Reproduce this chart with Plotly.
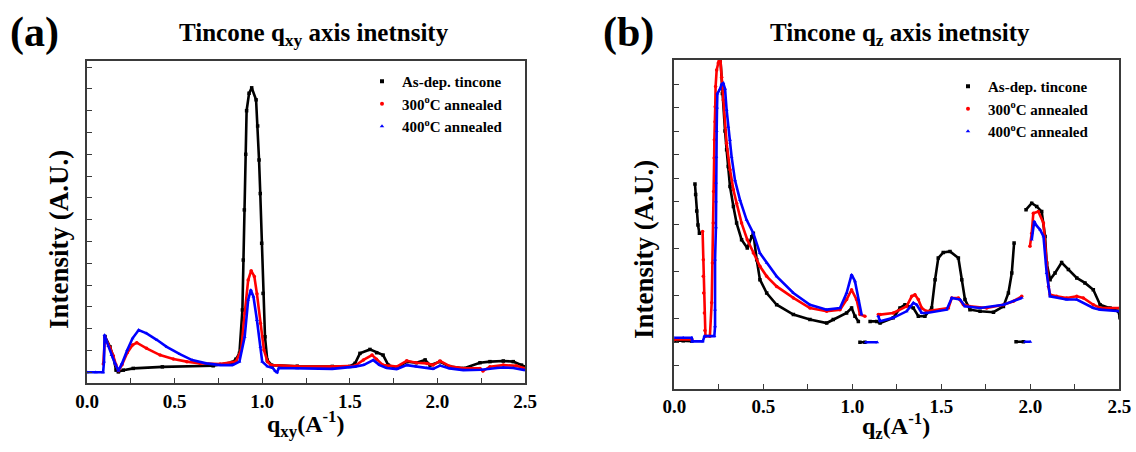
import plotly.graph_objects as go

# ---------------- Panel (a): q_xy profile ----------------
qa_black = [0.103, 0.131, 0.15, 0.166, 0.179, 0.207, 0.264, 0.43, 0.72, 0.83, 0.85, 0.87, 0.887, 0.892,
            0.898, 0.906, 0.911, 0.925, 0.94, 0.965, 0.974, 0.982, 0.989, 0.997, 1.005, 1.016, 1.029,
            1.054, 1.2, 1.4, 1.50, 1.53, 1.558, 1.615, 1.653, 1.69, 1.72, 1.768, 1.825, 1.88, 1.93,
            1.958, 2.015, 2.07, 2.148, 2.243, 2.30, 2.376, 2.433, 2.48, 2.5]
Ia_black = [1.64, 1.17, 0.72, 0.1, 0.02, 0.1, 0.18, 0.25, 0.3, 0.46, 0.6, 0.87, 2.86, 5.15,
            7.45, 10.0, 12.0, 12.8, 13.05, 12.5, 11.3, 9.74, 8.2, 5.92, 3.62, 1.63, 0.56,
            0.33, 0.28, 0.27, 0.27, 0.41, 0.87, 1.05, 0.9, 0.79, 0.33, 0.2, 0.49, 0.44, 0.57,
            0.33, 0.49, 0.26, 0.18, 0.44, 0.49, 0.52, 0.49, 0.33, 0.26]

qa_red = [0.093, 0.103, 0.13, 0.15, 0.165, 0.18, 0.2, 0.23, 0.26, 0.284, 0.34, 0.417, 0.493, 0.57,
          0.645, 0.76, 0.85, 0.88, 0.9, 0.92, 0.937, 0.955, 0.97, 0.99, 1.01, 1.03, 1.05, 1.2, 1.4,
          1.53, 1.578, 1.627, 1.653, 1.69, 1.768, 1.825, 1.88, 1.94, 1.975, 2.015, 2.07, 2.148,
          2.243, 2.26, 2.30, 2.376, 2.45, 2.5]
Ia_red = [0.38, 1.6, 1.15, 0.75, 0.35, 0.07, 0.35, 0.9, 1.25, 1.36, 1.1, 0.79, 0.61, 0.49,
          0.41, 0.38, 0.49, 1.02, 2.7, 4.23, 4.66, 4.4, 3.6, 2.25, 1.02, 0.49, 0.33, 0.28, 0.26,
          0.3, 0.57, 0.79, 0.6, 0.33, 0.26, 0.53, 0.44, 0.41, 0.33, 0.52, 0.28, 0.18,
          0.18, 0.06, 0.26, 0.33, 0.3, 0.18]

qa_blue = [0.0, 0.05, 0.092, 0.097, 0.1, 0.122, 0.14, 0.16, 0.179, 0.2, 0.23, 0.26, 0.295, 0.34,
           0.4, 0.455, 0.53, 0.6, 0.68, 0.76, 0.83, 0.87, 0.9, 0.92, 0.935, 0.95, 0.97, 0.99, 1.0,
           1.03, 1.06, 1.075, 1.085, 1.095, 1.2, 1.4, 1.53, 1.578, 1.634, 1.67, 1.71, 1.768, 1.825,
           1.88, 1.94, 1.975, 2.015, 2.07, 2.148, 2.25, 2.34, 2.376, 2.433, 2.5]
Ia_blue = [0.0, 0.0, 0.0, 0.49, 1.71, 1.2, 0.79, 0.41, 0.07, 0.41, 1.02, 1.56, 1.94, 1.79,
           1.48, 1.17, 0.83, 0.56, 0.41, 0.33, 0.33, 0.49, 1.63, 3.32, 3.78, 3.47, 2.4, 1.17, 0.49,
           0.27, 0.2, 0.05, 0.0, 0.2, 0.18, 0.16, 0.26, 0.33, 0.56, 0.33, 0.2, 0.15, 0.33,
           0.26, 0.2, 0.16, 0.31, 0.18, 0.1, 0.12, 0.2, 0.22, 0.2, 0.1]

# ---------------- Panel (b): q_z profile ----------------
qb_black = [0.0, 0.05, 0.098, None, 0.116, 0.12, 0.126, 0.133, 0.141, None,
            0.257, 0.27, 0.285, 0.294, 0.303, 0.313, 0.332, 0.35, 0.378, 0.41, 0.435, 0.444,
            0.463, 0.481, 0.519, 0.575, 0.669, 0.762, 0.856, 0.893, 0.968, 0.996, 1.015, 1.034,
            None, 1.043, 1.071, None, 1.1, 1.137, 1.156, 1.23, 1.268, 1.296, 1.343, 1.371, 1.408,
            1.446, 1.465, 1.483, 1.511, 1.549, 1.596, 1.615, 1.633, 1.661, 1.718, 1.793, 1.849,
            1.877, 1.896, 1.909, None, 1.92, 1.961, None, 1.976, 2.008, 2.036, 2.064, 2.083,
            2.092, 2.111, 2.139, 2.176, 2.214, 2.261, 2.307, 2.354, 2.392, 2.448, 2.495, 2.504]
Ib_black = [0.08, 0.06, 0.05, None, 6.75, 6.3, 5.6, 5.0, 4.65, None,
            12.3, 10.6, 9.0, 8.2, 7.49, 6.64, 5.79, 5.08, 4.37, 4.02, 4.5, 4.65,
            3.52, 2.67, 2.1, 1.6, 1.18, 0.97, 0.82, 0.97, 1.25, 1.46, 1.11, 0.89,
            None, 0.0, 0.0, None, 0.89, 0.89, 0.82, 1.04, 1.46, 1.6, 1.46, 1.11, 1.11,
            1.46, 2.67, 3.59, 3.83, 3.87, 3.59, 2.67, 1.82, 1.39, 1.32, 1.28, 1.53,
            2.1, 2.95, 4.23, None, 0.02, 0.02, None, 5.65, 5.93, 5.79, 5.57, 4.51,
            3.38, 2.67, 2.95, 3.4, 3.1, 2.74, 2.53, 2.24, 1.6, 1.46, 1.32, 1.04]

qb_red = [0.0, 0.098, None, 0.159, 0.163, 0.163, 0.165, 0.169, 0.172, 0.175, 0.2, 0.21, 0.214,
          0.219, 0.221, 0.224, 0.225, 0.229, 0.23, 0.232, 0.238, 0.247, 0.257, 0.266, 0.275,
          0.294, 0.313, 0.332, 0.35, 0.378, 0.41, 0.444, 0.481, 0.519, 0.575, 0.669, 0.762,
          0.856, 0.931, 0.968, 0.996, 1.024, 1.043, 1.071, None, 1.146, 1.156, 1.23, 1.305,
          1.334, 1.352, 1.371, 1.39, 1.418, 1.493, 1.54, 1.559, 1.596, 1.624, 1.661, 1.755,
          1.849, 1.905, 1.952, None, 1.998, 2.008, 2.017, 2.045, 2.074, 2.092, 2.102, 2.111,
          2.148, 2.204, 2.261, 2.298, 2.354, 2.392, 2.504]
Ib_red = [0.12, 0.12, None, 4.72, 3.52, 2.81, 2.1, 1.25, 0.5, 0.26, 0.26, 1.68, 3.38,
          5.08, 6.43, 7.85, 8.63, 9.4, 10.04, 10.9, 11.6, 11.9, 12.3, 11.3, 10.33,
          8.48, 7.35, 6.5, 5.93, 5.08, 4.37, 3.8, 3.24, 2.81, 2.38, 1.89, 1.46,
          1.32, 1.39, 1.82, 2.24, 1.82, 1.18, 1.11, None, 1.18, 1.18, 1.25, 1.53,
          1.96, 2.03, 1.82, 1.46, 1.32, 1.39, 1.46, 1.89, 1.89, 1.6, 1.53, 1.46,
          1.6, 1.75, 1.96, None, 4.09, 4.65, 5.5, 5.57, 5.08, 3.38, 2.38, 2.03,
          1.96, 1.89, 1.96, 1.89, 1.6, 1.46, 1.46]

qb_blue = [0.0, 0.05, 0.098, 0.1, 0.16, 0.17, 0.225, 0.229, 0.229, 0.229, 0.234, 0.234, 0.234,
           0.236, 0.238, 0.24, 0.242, 0.257, 0.266, 0.275, 0.285, 0.294, 0.303, 0.313, 0.322,
           0.341, 0.369, 0.406, 0.444, 0.481, 0.519, 0.575, 0.669, 0.762, 0.856, 0.931, 0.968,
           0.996, 1.015, 1.034, 1.052, None, 1.075, 1.14, None, 1.146, 1.156, 1.23, 1.305,
           1.343, 1.362, 1.39, 1.418, 1.53, 1.559, 1.606, 1.633, 1.718, 1.849, 1.952, None,
           1.97, 2.0, None, 2.008, 2.022, 2.032, 2.055, 2.074, 2.092, 2.111, 2.204, 2.261,
           2.354, 2.392, 2.504]
Ib_blue = [0.19, 0.19, 0.19, 0.04, 0.04, 0.26, 0.26, 0.68, 1.39, 3.52, 4.9, 6.0, 6.8,
           7.9, 9.0, 10.0, 10.6, 10.8, 11.0, 11.04, 10.8, 9.9, 9.18, 8.63, 7.9,
           6.9, 6.07, 5.22, 4.65, 3.8, 3.38, 2.81, 2.1, 1.6, 1.39, 1.46, 2.1,
           2.88, 2.6, 1.82, 1.18, None, 0.0, 0.0, None, 1.11, 0.9, 1.04, 1.32,
           1.68, 1.6, 1.25, 1.25, 1.39, 1.89, 1.82, 1.53, 1.46, 1.6, 1.89, None,
           0.02, 0.02, None, 4.37, 5.15, 5.0, 4.8, 4.51, 2.95, 1.96, 1.82, 1.82,
           1.46, 1.39, 1.32]

series_names = ["As-dep. tincone", "300<sup>o</sup>C annealed", "400<sup>o</sup>C annealed"]
series_colors = ["#000000", "#ff0000", "#0000ff"]
series_symbols = ["square", "circle", "triangle-up"]

x_tickvals = [0.0, 0.5, 1.0, 1.5, 2.0, 2.5]
x_ticktext = ["0.0", "0.5", "1.0", "1.5", "2.0", "2.5"]

SERIF = "Liberation Serif, Times New Roman, serif"
W, H = 1136, 452

fig = go.Figure()

panel_data = [
    ("x", "y", "legend", [(qa_black, Ia_black), (qa_red, Ia_red), (qa_blue, Ia_blue)]),
    ("x2", "y2", "legend2", [(qb_black, Ib_black), (qb_red, Ib_red), (qb_blue, Ib_blue)]),
]
for xa, ya, lg, sets in panel_data:
    for (qs, vs), name, col, sym in zip(sets, series_names, series_colors, series_symbols):
        fig.add_trace(go.Scatter(
            x=qs, y=vs, xaxis=xa, yaxis=ya, mode="lines+markers",
            line=dict(color=col, width=2.6),
            marker=dict(color=col, size=3.5, symbol=sym),
            connectgaps=False, showlegend=False, hoverinfo="skip"))
    for name, col, sym in zip(series_names, series_colors, series_symbols):
        fig.add_trace(go.Scatter(
            x=[None], y=[None], xaxis=xa, yaxis=ya, mode="markers",
            marker=dict(color=col, size=4, symbol=sym),
            name=name, legend=lg, showlegend=True))

axis_common = dict(showline=True, mirror=True, linecolor="#3a3a3a", linewidth=1.5,
                   showgrid=False, zeroline=False, ticks="inside", ticklen=5,
                   tickcolor="#3a3a3a", automargin=False)

def px_x(p):
    return p / W

def px_y(p):
    return 1 - p / H

tick_font = dict(family=SERIF, size=19, color="black", weight="bold")
legend_font = dict(family=SERIF, size=15, color="black", weight="bold")

fig.update_layout(
    width=W, height=H,
    margin=dict(l=0, r=0, t=0, b=0, pad=0),
    paper_bgcolor="white", plot_bgcolor="white",
    xaxis=dict(domain=[px_x(87), px_x(525)], range=[0, 2.5], anchor="y",
               tickvals=x_tickvals, ticktext=x_ticktext,
               minor=dict(dtick=0.25, ticks="inside", ticklen=5, tickcolor="#3a3a3a"),
               tickfont=tick_font, **axis_common),
    yaxis=dict(domain=[px_y(383), px_y(61)], range=[-0.49, 14.28], anchor="x",
               tick0=0, dtick=1, showticklabels=False, **axis_common),
    xaxis2=dict(domain=[px_x(674.3), px_x(1119.3)], range=[0, 2.5], anchor="y2",
                tickvals=x_tickvals, ticktext=x_ticktext,
                minor=dict(dtick=0.25, ticks="inside", ticklen=5, tickcolor="#3a3a3a"),
                tickfont=tick_font, **axis_common),
    yaxis2=dict(domain=[px_y(388.5), px_y(60)], range=[-1.97, 12.03], anchor="x2",
                tick0=0, dtick=1, showticklabels=False, **axis_common),
    legend=dict(x=px_x(362), y=px_y(65), xanchor="left", yanchor="top",
                bgcolor="rgba(0,0,0,0)", tracegroupgap=0, itemwidth=30,
                font=legend_font),
    legend2=dict(x=px_x(948), y=px_y(70), xanchor="left", yanchor="top",
                 bgcolor="rgba(0,0,0,0)", tracegroupgap=0, itemwidth=30,
                 font=legend_font),
)

def ann(text, x, y, size, angle=0):
    fig.add_annotation(text=text, x=px_x(x), y=px_y(y), xref="paper", yref="paper",
                       showarrow=False, xanchor="center", yanchor="middle", textangle=angle,
                       font=dict(family=SERIF, size=size, color="black"))

ann("<b>(a)</b>", 34, 33, 42)
ann("<b>(b)</b>", 628, 33, 42)
ann("<b>Tincone q<sub>xy</sub> axis inetnsity</b>", 314, 34, 25)
ann("<b>Tincone q<sub>z</sub> axis inetnsity</b>", 900, 34, 25)
ann("<b>q<sub>xy</sub>(A<sup>-1</sup>)</b>", 306, 424, 24)
ann("<b>q<sub>z</sub>(A<sup>-1</sup>)</b>", 896, 426, 24)
ann("<b>Intensity (A.U.)</b>", 59, 240, 27, -90)
ann("<b>Intensity (A.U.)</b>", 644, 250, 27, -90)

fig.write_html("out.html", config={"displayModeBar": False},
               post_script="document.body.style.margin='0px';")
